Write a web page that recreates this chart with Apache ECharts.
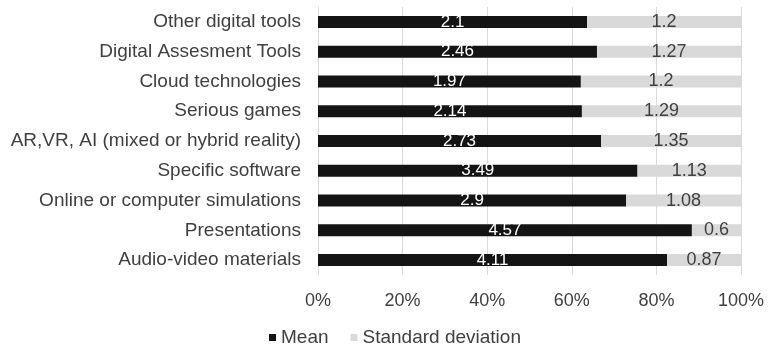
<!DOCTYPE html>
<html><head><meta charset="utf-8">
<script src="https://cdn.jsdelivr.net/npm/echarts@6/dist/echarts.min.js"></script>
<style>html,body{margin:0;padding:0;background:#fff}#c{width:768px;height:347px}</style>
</head><body><div id="c"></div>
<script>
var categories = ["Other digital tools","Digital Assesment Tools","Cloud technologies","Serious games","AR,VR, AI (mixed or hybrid reality)","Specific software","Online or computer simulations","Presentations","Audio-video materials"];
var meanValues = [2.1, 2.46, 1.97, 2.14, 2.73, 3.49, 2.9, 4.57, 4.11];
var sdValues = [1.2, 1.27, 1.2, 1.29, 1.35, 1.13, 1.08, 0.6, 0.87];
var xTickLabels = ["0%","20%","40%","60%","80%","100%"];

var meanPct = meanValues.map(function(m,i){return m/(m+sdValues[i])*100;});
var sdPct = sdValues.map(function(s,i){return s/(meanValues[i]+s)*100;});
var FONT = "Liberation Sans, Arial, sans-serif";

var chart = echarts.init(document.getElementById('c'));
chart.setOption({
  animation:false,
  textStyle:{fontFamily:FONT},
  grid:{left:318,right:27,top:7,bottom:72,containLabel:false},
  legend:{
    left:264, top:323, itemWidth:7, itemHeight:7, itemGap:22,
    icon:'rect',
    textStyle:{fontSize:19,color:'#404040',fontFamily:FONT},
    data:['Mean','Standard deviation']
  },
  xAxis:{
    type:'value', min:0, max:100, interval:20,
    axisLabel:{formatter:function(v){return xTickLabels[Math.round(v/20)];},fontSize:18,color:'#404040',margin:17,fontFamily:FONT},
    axisLine:{show:false},
    axisTick:{show:false},
    splitLine:{show:true,lineStyle:{color:'#d9d9d9',width:1}}
  },
  yAxis:{
    type:'category', inverse:true, data:categories,
    axisLabel:{fontSize:19,color:'#404040',margin:17,fontFamily:FONT},
    axisLine:{show:true,lineStyle:{color:'#d9d9d9'}},
    axisTick:{show:false}
  },
  series:[
    {name:'Mean',type:'bar',stack:'t',data:meanPct,barWidth:12,
     itemStyle:{color:'#141414'},
     label:{show:true,position:'inside',color:'#ffffff',fontSize:17,fontFamily:FONT,
       formatter:function(p){return String(meanValues[p.dataIndex]);}}},
    {name:'Standard deviation',type:'bar',stack:'t',data:sdPct,barWidth:12,
     itemStyle:{color:'#d9d9d9'},
     label:{show:true,position:'inside',color:'#404040',fontSize:18,fontFamily:FONT,
       formatter:function(p){return String(sdValues[p.dataIndex]);}}}
  ]
});
</script></body></html>
